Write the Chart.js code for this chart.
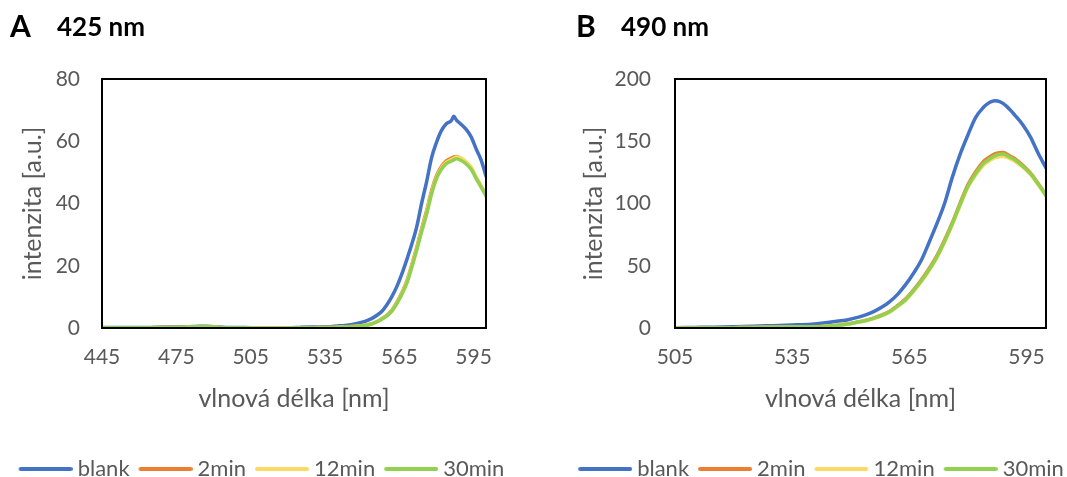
<!DOCTYPE html>
<html>
<head>
<meta charset="utf-8">
<script src="https://cdn.jsdelivr.net/npm/chart.js@4.4.1/dist/chart.umd.min.js"></script>
<style>
  html, body { margin: 0; padding: 0; background: #fff; width: 1067px; height: 477px; overflow: hidden; }
  .panel { position: absolute; top: 0; height: 490px; }
  #panelA { left: 0; width: 523px; }
  #panelB { left: 533px; width: 576px; }
  .head { position: absolute; font-family: Lato, sans-serif; font-weight: 700; color: #000; line-height: 1.2; white-space: nowrap; }
</style>
</head>
<body>
<div class="panel" id="panelA"><canvas id="chartA"></canvas></div>
<div class="panel" id="panelB"><canvas id="chartB"></canvas></div>
<div class="head" style="left:10px; top:7px; font-size:30px;">A</div>
<div class="head" style="left:57px; top:11px; font-size:26px;">425 nm</div>
<div class="head" style="left:576px; top:7px; font-size:30px;">B</div>
<div class="head" style="left:621px; top:11px; font-size:26px;">490 nm</div>
<script>
// legenda / barvy
const seriesNames = ['blank', '2min', '12min', '30min'];
const seriesColors = ['#4472C4', '#ED7D31', '#FFD966', '#92D050'];

// A - excitace 425 nm
const wavelengthA = [445, 450, 455, 460, 465, 470, 475, 480, 483, 486, 489, 492, 495,
  500, 505, 510, 515, 520, 525, 530, 535, 538, 541, 544, 547, 550,
  552, 554, 556, 558, 560, 562, 564, 566, 568, 570, 572, 574, 576, 578, 580,
  582, 584, 586, 587, 588, 590, 592, 594, 596, 598, 600];
const blankA = [0.2, 0.2, 0.2, 0.2, 0.2, 0.3, 0.3, 0.4, 0.5, 0.6, 0.5, 0.3, 0.2,
  0.2, 0.1, 0.1, 0.1, 0.1, 0.2, 0.3, 0.4, 0.5, 0.7, 0.9, 1.3, 1.9,
  2.4, 3.1, 4.1, 5.4, 7.5, 10.1, 13.3, 17.3, 21.9, 26.8, 32.4, 40.0, 46.9, 54.6, 59.6,
  63.4, 65.6, 66.6, 68.0, 66.9, 65.4, 63.8, 61.4, 57.6, 54.0, 48.8];
const min2A = [0.1, 0.1, 0.1, 0.1, 0.1, 0.2, 0.2, 0.3, 0.4, 0.5, 0.4, 0.2, 0.1,
  0.1, 0.0, 0.0, 0.0, 0.0, 0.1, 0.1, 0.2, 0.2, 0.3, 0.4, 0.6, 0.8,
  1.0, 1.4, 2.1, 3.0, 4.1, 5.7, 8.2, 11.3, 15.0, 20.2, 25.8, 31.8, 37.6, 44.0, 48.9,
  51.9, 53.7, 54.6, 55.0, 55.1, 54.4, 53.2, 51.4, 48.4, 45.6, 42.8];
const min12A = [0.1, 0.1, 0.1, 0.1, 0.1, 0.2, 0.2, 0.3, 0.4, 0.5, 0.4, 0.2, 0.1,
  0.1, 0.0, 0.0, 0.0, 0.0, 0.1, 0.1, 0.2, 0.2, 0.3, 0.4, 0.5, 0.7,
  0.9, 1.3, 2.0, 2.9, 4.0, 5.5, 8.0, 11.0, 14.7, 19.8, 25.4, 31.3, 37.0, 43.4, 48.3,
  51.4, 53.2, 54.1, 54.5, 54.9, 54.6, 53.4, 51.7, 48.6, 45.5, 42.6];
const min30A = [0.1, 0.1, 0.1, 0.1, 0.1, 0.2, 0.2, 0.3, 0.4, 0.5, 0.4, 0.2, 0.1,
  0.1, 0.0, 0.0, 0.0, 0.0, 0.1, 0.1, 0.2, 0.2, 0.3, 0.4, 0.5, 0.7,
  0.9, 1.3, 2.0, 2.9, 3.9, 5.4, 7.8, 10.8, 14.3, 19.4, 25.0, 30.9, 36.5, 43.0, 48.0,
  51.0, 52.8, 53.6, 54.0, 54.4, 53.8, 52.7, 51.0, 48.1, 45.3, 42.5];
const xTicksA = [445, 475, 505, 535, 565, 595];
const yTicksA = [0, 20, 40, 60, 80];

// B - excitace 490 nm
const wavelengthB = [505, 510, 515, 520, 525, 530, 535, 540, 543, 546, 549, 552,
  554, 556, 558, 560, 562, 564, 566, 568, 570, 572, 574, 576, 578, 580, 582, 584,
  585, 586, 587, 588, 589, 590, 591, 592, 594, 596, 598, 600];
const blankB = [0.3, 0.5, 0.7, 1.0, 1.4, 1.9, 2.4, 3.1, 4.0, 5.2, 6.5, 8.7,
  10.7, 13.4, 16.8, 21.2, 27.0, 34.6, 43.6, 54.0, 68.3, 83.4, 99.8, 121.0, 139.5, 155.0, 169.2, 177.3,
  180.0, 181.8, 182.5, 182.1, 180.4, 177.8, 174.6, 171.0, 163.5, 153.5, 140.3, 128.5];
const min2B = [0.1, 0.1, 0.2, 0.3, 0.4, 0.6, 0.8, 1.1, 1.4, 2.1, 3.2, 5.0,
  6.3, 8.2, 10.5, 13.5, 18.1, 23.2, 30.3, 38.3, 47.4, 57.7, 70.4, 84.5, 100.3, 115.0, 125.5, 133.8,
  136.2, 138.4, 140.0, 140.8, 141.0, 139.6, 137.8, 136.0, 130.8, 124.6, 116.0, 106.8];
const min12B = [0.1, 0.1, 0.2, 0.3, 0.4, 0.6, 0.8, 1.0, 1.3, 2.0, 3.0, 4.7,
  5.9, 7.8, 10.0, 12.8, 17.3, 22.2, 29.1, 36.9, 45.8, 56.0, 68.6, 82.8, 98.3, 112.8, 122.8, 130.8,
  133.2, 135.3, 136.8, 137.6, 137.9, 137.0, 135.6, 134.0, 129.3, 123.5, 115.0, 106.0];
const min30B = [0.1, 0.1, 0.2, 0.3, 0.4, 0.6, 0.8, 1.0, 1.3, 2.0, 3.0, 4.8,
  6.0, 7.9, 10.1, 13.0, 17.6, 22.6, 29.6, 37.5, 46.5, 56.7, 69.4, 83.6, 99.2, 113.8, 124.0, 132.3,
  134.6, 136.8, 138.5, 139.5, 139.8, 138.5, 136.8, 135.0, 130.0, 124.0, 115.6, 106.5];
const xTicksB = [505, 535, 565, 595];
const yTicksB = [0, 50, 100, 150, 200];

Chart.defaults.font.family = 'Lato, sans-serif';
Chart.defaults.color = '#595959';

const tickFont = { size: 21 };
const titleFont = { size: 25 };

// ramecek kolem plochy grafu
const plotBorder = {
  id: 'plotBorder',
  afterDatasetsDraw(chart) {
    const { ctx, chartArea: a } = chart;
    ctx.save();
    ctx.strokeStyle = '#000';
    ctx.lineWidth = 2;
    ctx.strokeRect(a.left, a.top, a.right - a.left, a.bottom - a.top);
    ctx.restore();
  }
};

// znacka do legendy - cara posunuta k textu
function legendLine(color) {
  const c = document.createElement('canvas');
  c.width = 60;
  c.height = 8;
  const g = c.getContext('2d');
  g.strokeStyle = color;
  g.lineWidth = 4;
  g.lineCap = 'round';
  g.beginPath();
  g.moveTo(8, 4);
  g.lineTo(58, 4);
  g.stroke();
  return c;
}
const legendLines = seriesColors.map(legendLine);

function toPoints(wl, vals) {
  return wl.map((x, i) => ({ x: x, y: vals[i] }));
}

function buildChart(id, wl, rows, xTicks, yTicks, geo) {
  const datasets = rows.map((vals, i) => ({
    label: seriesNames[i],
    data: toPoints(wl, vals),
    borderColor: seriesColors[i],
    backgroundColor: seriesColors[i],
    borderWidth: 3.5,
    borderCapStyle: 'round',
    borderJoinStyle: 'round',
    pointRadius: 0,
    cubicInterpolationMode: 'monotone',
    order: rows.length - 1 - i
  }));

  return new Chart(document.getElementById(id), {
    type: 'line',
    data: { datasets },
    plugins: [plotBorder],
    options: {
      responsive: true,
      maintainAspectRatio: false,
      animation: false,
      layout: { padding: { left: 0, top: 79, right: 0, bottom: 0 } },
      plugins: {
        tooltip: { enabled: false },
        legend: {
          position: 'bottom',
          labels: {
            usePointStyle: true,
            pointStyleWidth: 48,
            color: '#595959',
            font: { size: 22 },
            padding: 9,
            generateLabels: chart => Chart.defaults.plugins.legend.labels.generateLabels(chart).map(item => {
              item.pointStyle = legendLines[item.datasetIndex];
              return item;
            }),
            sort: (a, b) => a.datasetIndex - b.datasetIndex
          }
        }
      },
      scales: {
        x: {
          type: 'linear',
          min: geo.xMin,
          max: geo.xMax,
          afterBuildTicks: s => { s.ticks = xTicks.map(v => ({ value: v })); },
          afterFit: s => { s.height = 121; },
          grid: { display: false, drawTicks: false },
          border: { display: false },
          ticks: { font: tickFont, padding: 17, maxRotation: 0, autoSkip: false },
          title: { display: true, text: 'vlnová délka [nm]', font: titleFont, padding: { top: 0, bottom: 35 } }
        },
        y: {
          min: 0,
          max: yTicks[yTicks.length - 1],
          afterBuildTicks: s => { s.ticks = yTicks.map(v => ({ value: v })); },
          afterFit: s => { s.width = geo.yWidth; },
          grid: { display: false, drawTicks: false },
          border: { display: false },
          ticks: { font: tickFont, padding: geo.yTickPad },
          title: { display: true, text: 'intenzita [a.u.]', font: titleFont, padding: { top: geo.yTitlePad, bottom: 0 } }
        },
        yRight: {
          position: 'right',
          afterFit: s => { s.width = geo.rightWidth; },
          grid: { display: false, drawTicks: false },
          border: { display: false },
          ticks: { display: false }
        }
      }
    }
  });
}

buildChart('chartA', wavelengthA, [blankA, min2A, min12A, min30A], xTicksA, yTicksA,
  { xMin: 445, xMax: 600, yWidth: 102, rightWidth: 37, yTickPad: 22, yTitlePad: 18 });
buildChart('chartB', wavelengthB, [blankB, min2B, min12B, min30B], xTicksB, yTicksB,
  { xMin: 505, xMax: 600, yWidth: 142, rightWidth: 63, yTickPad: 24, yTitlePad: 46 });
</script>
</body>
</html>
